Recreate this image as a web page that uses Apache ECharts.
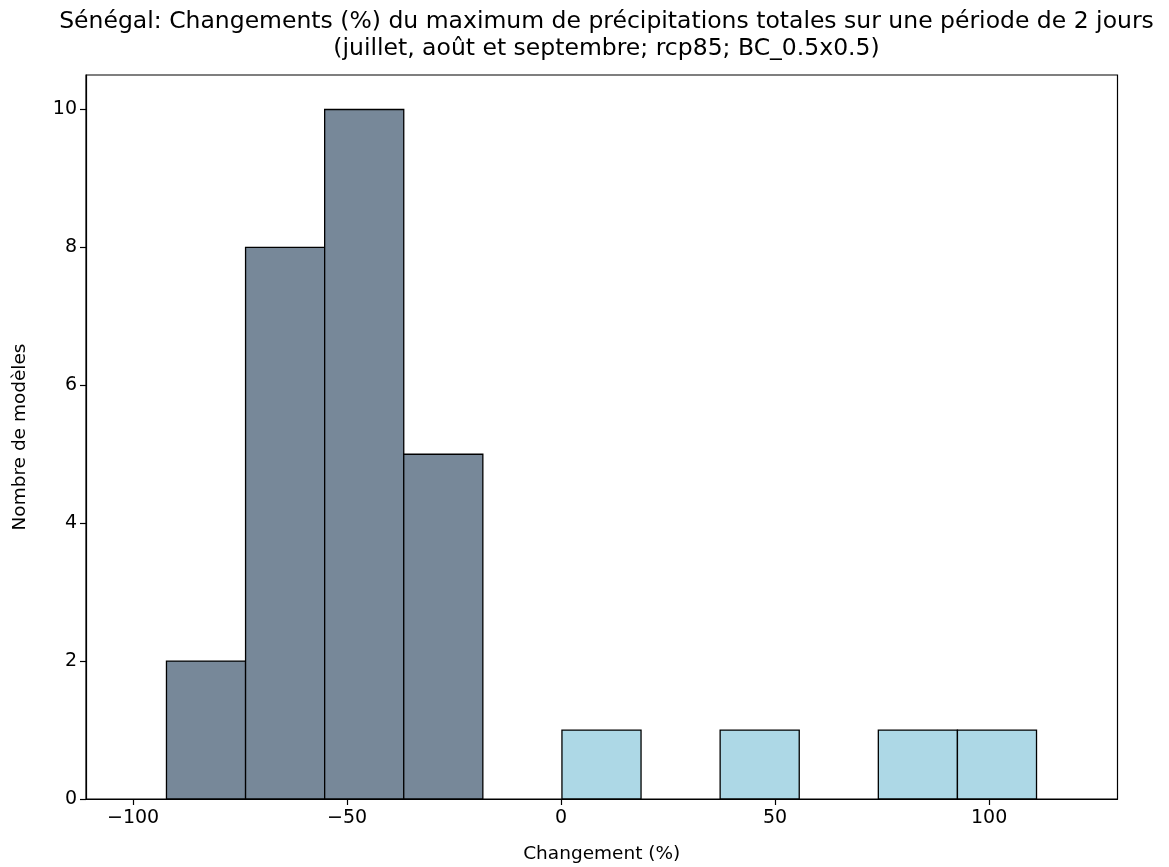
<!DOCTYPE html>
<html>
<head>
<meta charset="utf-8">
<script src="https://cdn.jsdelivr.net/npm/echarts@6/dist/echarts.min.js"></script>
<style>
html,body{margin:0;padding:0;background:#fff;}
#chart{width:1169px;height:867px;}
</style>
</head>
<body>
<div id="chart"></div>
<script>
const binEdges = [-92.2, -73.72, -55.24, -36.76, -18.28, 0.2, 18.68, 37.16, 55.64, 74.12, 92.6, 111.08];
const counts = [2, 8, 10, 5, 0, 1, 0, 1, 0, 1, 1];
const xTicks = [-100, -50, 0, 50, 100];
const yTicks = [0, 2, 4, 6, 8, 10];
const titleLines = [
  "Sénégal: Changements (%) du maximum de précipitations totales sur une période de 2 jours",
  "(juillet, août et septembre; rcp85; BC_0.5x0.5)"
];
const xName = "Changement (%)";
const yName = "Nombre de modèles";

const bins = [];
for (let i = 0; i < counts.length; i++) {
  if (counts[i] > 0) bins.push([binEdges[i], binEdges[i + 1], counts[i]]);
}

const FONT = "DejaVu Sans";
const chart = echarts.init(document.getElementById('chart'), null, {renderer: 'canvas'});
chart.setOption({
  animation: false,
  backgroundColor: '#fff',
  title: {
    text: titleLines.join('\n'),
    left: 601.5,
    textAlign: 'center',
    top: 3,
    textStyle: {fontFamily: FONT, fontSize: 23.5, fontWeight: 'normal', color: '#000', lineHeight: 27}
  },
  grid: {left: 86, right: 51.5, top: 75, bottom: 68, show: true, borderColor: '#000', borderWidth: 1.2,
         backgroundColor: 'transparent', containLabel: false, outerBoundsMode: 'none'},
  xAxis: {
    type: 'value',
    min: -111,
    max: 130,
    name: xName,
    nameLocation: 'middle',
    nameGap: 46,
    nameTextStyle: {fontFamily: FONT, fontSize: 18.5, color: '#000'},
    axisLine: {show: true, onZero: false, lineStyle: {color: '#000', width: 1.2}},
    axisTick: {show: true, customValues: xTicks, length: 6, lineStyle: {color: '#000', width: 1.2}},
    axisLabel: {
      customValues: xTicks,
      fontFamily: FONT, fontSize: 19, color: '#000', margin: 10,
      formatter: v => String(v).replace('-', '\u2212')
    },
    splitLine: {show: false}
  },
  yAxis: {
    type: 'value',
    min: 0,
    max: 10.5,
    interval: 2,
    name: yName,
    nameLocation: 'middle',
    nameGap: 56,
    nameRotate: 90,
    nameTextStyle: {fontFamily: FONT, fontSize: 18.5, color: '#000'},
    axisLine: {show: true, onZero: false, lineStyle: {color: '#000', width: 1.2}},
    axisTick: {show: true, length: 6, lineStyle: {color: '#000', width: 1.2}},
    axisLabel: {fontFamily: FONT, fontSize: 19, color: '#000', margin: 9, showMaxLabel: false},
    splitLine: {show: false}
  },
  series: [{
    type: 'custom',
    data: bins,
    encode: {x: [0, 1], y: 2},
    clip: true,
    renderItem: function (params, api) {
      const x0 = api.value(0), x1 = api.value(1), c = api.value(2);
      const p0 = api.coord([x0, c]);
      const p1 = api.coord([x1, 0]);
      const mid = (x0 + x1) / 2;
      return {
        type: 'rect',
        shape: {x: p0[0], y: p0[1], width: p1[0] - p0[0], height: p1[1] - p0[1]},
        style: {fill: mid < 0 ? '#778899' : '#ADD8E6', stroke: '#000', lineWidth: 1.3}
      };
    }
  }]
});
</script>
</body>
</html>
